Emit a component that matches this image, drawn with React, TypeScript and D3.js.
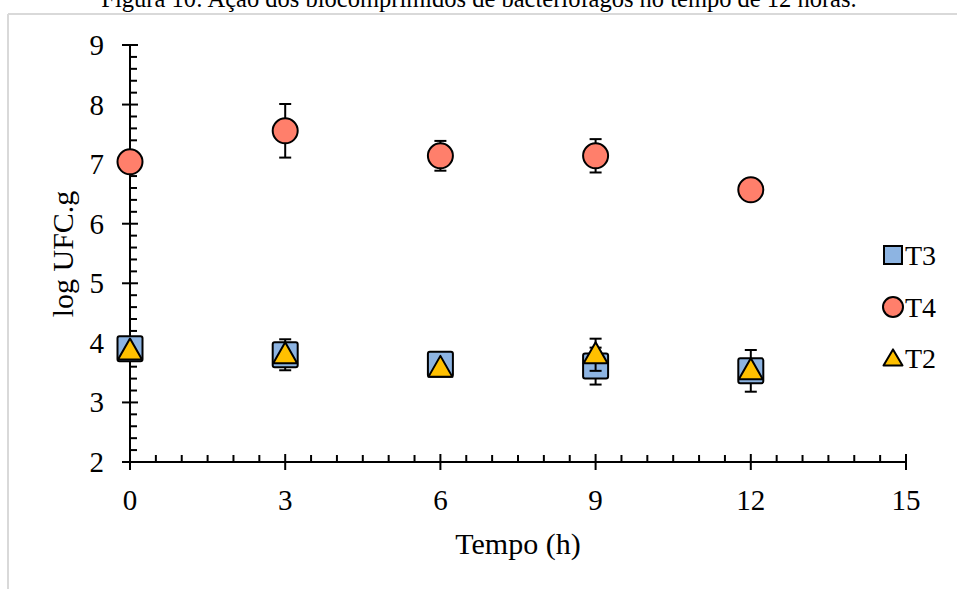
import React from "react";
import * as d3 from "d3";

const times = [0, 3, 6, 9, 12];
const t3Values = [3.9, 3.8, 3.64, 3.61, 3.53];
const t3Errors = [0, 0.26, 0, 0.31, 0.35];
const t4Values = [7.04, 7.56, 7.14, 7.14, 6.57];
const t4Errors = [0, 0.45, 0.25, 0.28, 0];
const t2Values = [3.86, 3.8, 3.57, 3.8, 3.53];
const t2Errors = [0, 0, 0, 0.27, 0];
const xTicks = [0, 3, 6, 9, 12, 15];
const yTicks = [2, 3, 4, 5, 6, 7, 8, 9];
const legendLabels = ["T3", "T4", "T2"];
const title = "Figura 10: Ação dos biocomprimidos de bacteriófagos no tempo de 12 horas.";

const W = 957;
const H = 589;
const FONT = "'Liberation Serif', 'Times New Roman', serif";

export default function App() {
  const x = d3.scaleLinear().domain([0, 15]).range([130, 906]);
  const y = d3.scaleLinear().domain([2, 9]).range([462, 45]);
  const xMinor = d3.range(0, 15.001, 0.5).filter((v) => Math.abs(v % 3) > 1e-6);
  const yMinor = d3.range(2, 9.001, 0.2).filter((v) => Math.abs(v - Math.round(v)) > 1e-6);

  const tri = (cx: number, cy: number, w = 24, h = 21) =>
    `M${cx},${cy - h * 0.6} L${cx + w / 2},${cy + h * 0.4} L${cx - w / 2},${cy + h * 0.4} Z`;

  const errBar = (xi: number, v: number, e: number, key: string) => {
    if (!e) return null;
    const cx = x(xi);
    return (
      <g key={key} stroke="#000" strokeWidth={2}>
        <line x1={cx} x2={cx} y1={y(v + e)} y2={y(v - e)} />
        <line x1={cx - 6} x2={cx + 6} y1={y(v + e)} y2={y(v + e)} />
        <line x1={cx - 6} x2={cx + 6} y1={y(v - e)} y2={y(v - e)} />
      </g>
    );
  };

  const legendY = [255, 307, 358];

  return (
    <svg width={W} height={H} style={{ position: "absolute", left: 0, top: 0, background: "#fff" }} fontFamily={FONT}>
      <rect x={0} y={0} width={W} height={H} fill="#fff" />
      <text x={479} y={7} textAnchor="middle" fontSize={24.5} fill="#000">{title}</text>
      <line x1={8} x2={W} y1={14} y2={14} stroke="#d9d9d9" strokeWidth={2} />
      <line x1={8} x2={8} y1={14} y2={H} stroke="#d9d9d9" strokeWidth={2} />

      {/* axes */}
      <g stroke="#000" strokeWidth={2}>
        <line x1={x(0)} x2={x(0)} y1={y(9)} y2={y(2)} />
        <line x1={x(0)} x2={x(15)} y1={y(2)} y2={y(2)} />
        {yTicks.map((t) => (
          <line key={"ym" + t} x1={x(0) - 8} x2={x(0) + 8} y1={y(t)} y2={y(t)} />
        ))}
        {yMinor.map((t) => (
          <line key={"yn" + t} x1={x(0)} x2={x(0) + 7} y1={y(t)} y2={y(t)} />
        ))}
        {xTicks.map((t) => (
          <line key={"xm" + t} x1={x(t)} x2={x(t)} y1={y(2) - 8} y2={y(2) + 8} />
        ))}
        {xMinor.map((t) => (
          <line key={"xn" + t} x1={x(t)} x2={x(t)} y1={y(2)} y2={y(2) - 7} />
        ))}
      </g>
      {yTicks.map((t) => (
        <text key={"yl" + t} x={104} y={y(t) + 10} textAnchor="end" fontSize={29} fill="#000">{t}</text>
      ))}
      {xTicks.map((t) => (
        <text key={"xl" + t} x={x(t)} y={y(2) + 48} textAnchor="middle" fontSize={29} fill="#000">{t}</text>
      ))}
      <text x={518} y={554} textAnchor="middle" fontSize={30} fill="#000">Tempo (h)</text>
      <text transform={`translate(73,254) rotate(-90)`} textAnchor="middle" fontSize={30} fill="#000">log UFC.g</text>

      {/* T3 squares */}
      {times.map((t, i) => errBar(t, t3Values[i], t3Errors[i], "e3" + i))}
      {times.map((t, i) => (
        <rect key={"s" + i} x={x(t) - 12.5} y={y(t3Values[i]) - 12.5} width={25} height={25} rx={2}
          fill="#8DB4E2" stroke="#000" strokeWidth={2} />
      ))}
      {/* T4 circles */}
      {times.map((t, i) => errBar(t, t4Values[i], t4Errors[i], "e4" + i))}
      {times.map((t, i) => (
        <circle key={"c" + i} cx={x(t)} cy={y(t4Values[i])} r={12.5} fill="#FF7F6B" stroke="#000" strokeWidth={2} />
      ))}
      {/* T2 triangles */}
      {times.map((t, i) => errBar(t, t2Values[i], t2Errors[i], "e2" + i))}
      {times.map((t, i) => (
        <path key={"t" + i} d={tri(x(t), y(t2Values[i]))} fill="#FFC000" stroke="#000" strokeWidth={2} strokeLinejoin="round" />
      ))}

      {/* legend */}
      <rect x={884} y={legendY[0] - 9} width={18} height={18} fill="#8DB4E2" stroke="#000" strokeWidth={2} />
      <circle cx={893} cy={legendY[1]} r={10} fill="#FF7F6B" stroke="#000" strokeWidth={2} />
      <path d={tri(893, legendY[2] + 1, 19, 16)} fill="#FFC000" stroke="#000" strokeWidth={2} strokeLinejoin="round" />
      {legendLabels.map((l, i) => (
        <text key={l} x={905} y={legendY[i] + 10} fontSize={28} fill="#000">{l}</text>
      ))}
    </svg>
  );
}
